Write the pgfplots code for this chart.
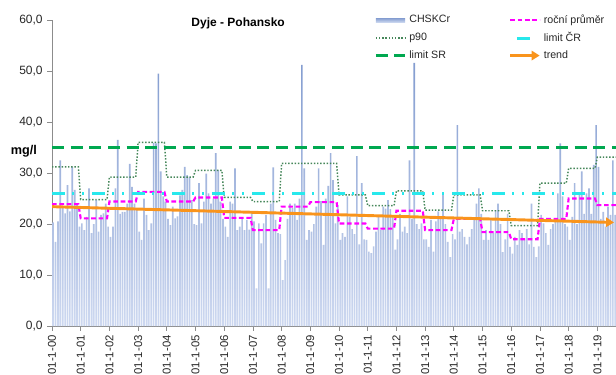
\documentclass[border=0pt]{standalone}
\usepackage{fontspec}
\setmainfont{Liberation Sans}
\usepackage{pgfplots}
\usepackage{pgfplotstable}
\pgfplotsset{compat=1.18}
\usetikzlibrary{arrows.meta}

\definecolor{bartop}{RGB}{132,157,208}
\definecolor{barbot}{RGB}{205,216,240}
\definecolor{barleg}{RGB}{165,184,222}
\definecolor{prumer}{RGB}{255,0,255}
\definecolor{pninety}{RGB}{70,135,90}
\definecolor{limcr}{RGB}{40,232,236}
\definecolor{limsr}{RGB}{0,168,80}
\definecolor{trendor}{RGB}{249,148,28}
\definecolor{axgray}{RGB}{140,140,140}

% monthly CHSKCr values, Jan 2000 -- Aug 2019 (mg/l)
\pgfplotstableread{
v
20.3
16.5
20.5
32.5
23.4
22.1
27.6
22.5
31.2
26.7
24.0
19.5
20.1
18.8
21.4
27.0
18.2
20.0
24.7
18.5
21.8
22.1
24.0
19.5
17.5
19.5
27.0
36.5
22.0
22.4
22.4
24.0
31.8
27.3
24.0
23.0
18.5
16.9
25.0
21.8
18.8
20.1
35.9
35.8
49.5
30.3
25.4
24.4
21.0
19.8
23.4
21.1
21.5
25.6
26.7
31.2
29.6
29.3
24.7
20.0
19.8
28.0
20.1
24.4
29.9
26.0
24.0
25.0
33.9
30.6
24.4
21.0
19.5
17.5
24.4
24.0
30.9
18.8
19.5
21.0
18.8
20.8
18.9
22.4
20.5
7.4
20.1
16.2
20.1
21.8
7.4
24.0
31.1
20.8
18.2
18.0
9.0
12.9
21.0
24.0
23.1
24.0
20.8
25.0
51.2
30.9
16.9
18.8
18.5
20.0
23.4
30.9
24.5
15.9
25.0
27.5
33.9
28.6
20.1
23.7
16.9
18.2
17.5
25.4
21.4
19.0
18.0
33.3
16.0
28.0
17.0
16.9
14.6
14.3
15.6
18.5
21.4
18.8
23.4
23.0
24.7
22.9
21.4
15.0
17.0
22.0
18.5
19.5
18.2
32.5
21.0
51.6
20.0
19.0
20.1
17.0
17.0
15.5
20.8
14.6
20.5
22.5
21.0
26.0
20.0
16.5
13.5
18.0
17.0
39.4
18.5
19.0
17.5
16.0
17.5
19.0
21.0
24.0
27.0
22.0
16.9
18.8
16.9
20.8
18.2
22.7
24.0
20.0
14.5
17.0
22.0
15.5
14.2
17.5
15.9
18.8
18.2
17.0
19.0
16.0
24.0
15.5
13.5
15.6
21.8
20.1
18.2
15.9
19.0
20.0
21.0
26.0
35.8
25.4
20.0
19.5
16.9
21.4
28.0
20.0
26.0
30.3
22.0
26.0
27.0
22.0
31.6
39.4
31.2
21.0
22.4
19.5
23.4
21.8
32.5
21.8
}\chskcr

\begin{document}
\begin{tikzpicture}
\begin{axis}[
  name=ax,
  scale only axis,
  width=423pt, height=229.5pt,
  xmin=0, xmax=19.65,
  ymin=0, ymax=60,
  axis x line*=bottom,
  axis y line*=left,
  axis line style={axgray, line width=0.6pt},
  tick style={axgray, line width=0.6pt},
  tick align=outside,
  major tick length=3.5pt,
  clip=true,
  /pgf/number format/assume math mode=true,
  ytick={0,10,20,30,40,50,60},
  yticklabel style={font=\fontsize{9}{10}\selectfont, text=black!85,
    /pgf/number format/.cd, fixed, fixed zerofill, precision=1, use comma},
  xtick={0,1,...,19},
  xticklabels={01-1-00,01-1-01,01-1-02,01-1-03,01-1-04,01-1-05,01-1-06,01-1-07,01-1-08,01-1-09,
               01-1-10,01-1-11,01-1-12,01-1-13,01-1-14,01-1-15,01-1-16,01-1-17,01-1-18,01-1-19},
  xticklabel style={rotate=90, anchor=east, font=\fontsize{8.5}{10}\selectfont, text=black!85},
  title={Dyje - Pohansko},
  title style={at={(0.33,0.962)}, anchor=center, font=\bfseries\fontsize{9}{10}\selectfont},
  ylabel={mg/l},
  ylabel style={rotate=-90, at={(axis description cs:-0.05,0.572)}, anchor=center,
    font=\bfseries\fontsize{9.5}{10}\selectfont},
  legend columns=2,
  legend cell align=left,
  legend style={draw=none, fill=none, at={(0.564,1.035)}, anchor=north west,
    font=\fontsize{8}{9}\selectfont, text=black!85, row sep=1.2pt,
    /tikz/every even column/.append style={column sep=42pt}},
  legend image code/.code={\draw[#1] (0pt,0pt) -- (22pt,0pt);},
]
% CHSKCr samples as thin shaded bars
\addplot[ybar, bar width=0.058, draw=none, top color=bartop, bottom color=barbot,
  legend image code/.code={\fill[barleg] (0pt,-1.6pt) rectangle (22pt,1.6pt);}]
  table[x expr=\coordindex/12+0.04, y=v] {\chskcr};
\addlegendentry{CHSKCr}

% annual mean
\addplot[prumer, line width=1.6pt, dash pattern=on 3.5pt off 2pt]
  coordinates {(0,23.9)(0.917,23.9)(1,21.1)(1.917,21.1)(2,24.4)(2.917,24.4)
  (3,26.3)(3.917,26.3)(4,24.4)(4.917,24.4)(5,25.2)(5.917,25.2)(6,21.2)(6.917,21.2)
  (7,18.8)(7.917,18.8)(8,23.4)(8.917,23.4)(9,24.3)(9.917,24.3)(10,20.1)(10.917,20.1)
  (11,19.1)(11.917,19.1)(12,22.6)(12.917,22.6)(13,18.8)(13.917,18.8)(14,21.0)(14.917,21.0)
  (15,18.4)(15.917,18.4)(16,17.0)(16.917,17.0)(17,21.0)(17.917,21.0)(18,25.0)(18.917,25.0)
  (19,23.7)(19.65,23.7)};
\addlegendentry{roční průměr}

% 90th percentile per year
\addplot[pninety, line width=1.1pt, dash pattern=on 1.1pt off 1.3pt]
  coordinates {(0,31.2)(0.917,31.2)(1,24.8)(1.917,24.8)(2,29.2)(2.917,29.2)
  (3,36.0)(3.917,36.0)(4,29.2)(4.917,29.2)(5,30.5)(5.917,30.5)(6,25.2)(6.917,25.2)
  (7,24.4)(7.917,24.4)(8,31.9)(8.917,31.9)(9,31.9)(9.917,31.9)(10,25.7)(10.917,25.7)
  (11,23.6)(11.917,23.6)(12,26.5)(12.917,26.5)(13,22.7)(13.917,22.7)(14,25.7)(14.917,25.7)
  (15,22.6)(15.917,22.6)(16,19.7)(16.917,19.7)(17,28.0)(17.917,28.0)(18,30.9)(18.917,30.9)
  (19,33.1)(19.65,33.1)};
\addlegendentry{p90}

% limit values
\addplot[limcr, line width=2.2pt,
  dash pattern=on 10pt off 5pt on 1.5pt off 6pt on 1.5pt off 6pt,
  legend image code/.code={\draw[limcr, line width=2.2pt] (5pt,0pt) -- (17pt,0pt);}]
  coordinates {(0,26)(19.65,26)};
\addlegendentry{limit ČR}

\addplot[limsr, line width=2.2pt, dash pattern=on 9pt off 5pt]
  coordinates {(0,35)(19.65,35)};
\addlegendentry{limit SR}

% linear trend
\addplot[trendor, line width=2.2pt, -{Triangle[length=6pt,width=7pt]}]
  coordinates {(0,23.4)(19.58,20.3)};
\addlegendentry{trend}
\end{axis}
\pgfresetboundingbox
\path[use as bounding box] (ax.south west) ++(-39pt,-36pt) rectangle ++(462pt,280.5pt);
\end{tikzpicture}
\end{document}
